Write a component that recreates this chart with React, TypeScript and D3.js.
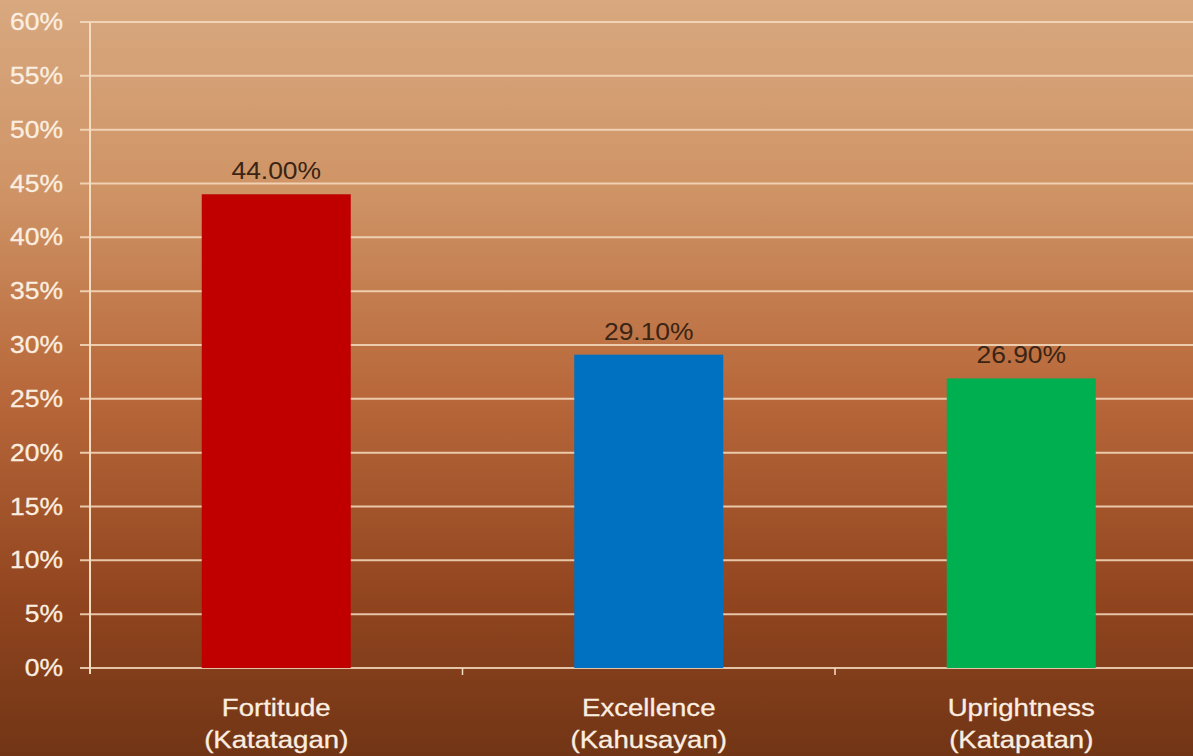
import React from "react";
import * as d3 from "d3";

const categories = ["Fortitude|(Katatagan)", "Excellence|(Kahusayan)", "Uprightness|(Katapatan)"];
const values = [44.0, 29.1, 26.9];
const barColors = ["#c00000", "#0070c0", "#00b050"];
const yTicks = [0, 5, 10, 15, 20, 25, 30, 35, 40, 45, 50, 55, 60];

const W = 1193;
const H = 756;
const FONT = "'Liberation Sans', Arial, sans-serif";

export default function App() {
  const x = d3.scaleBand<string>().domain(categories).range([90, 1207.5]).paddingInner(0).paddingOuter(0);
  const y = d3.scaleLinear().domain([0, 60]).range([668, 22]);
  const bw = x.bandwidth() * 0.4;
  const sx = 1.15;

  return (
    <svg width={W} height={H} style={{ position: "absolute", left: 0, top: 0, display: "block" }}>
      <defs>
        <linearGradient id="bg" x1="0" y1="0" x2="0" y2="1">
          <stop offset="0" stopColor="#d8a87f" />
          <stop offset="0.25" stopColor="#cf9466" />
          <stop offset="0.52" stopColor="#b8683a" />
          <stop offset="0.78" stopColor="#934620" />
          <stop offset="1" stopColor="#713515" />
        </linearGradient>
      </defs>
      <rect x={0} y={0} width={W} height={H} fill="url(#bg)" />
      {yTicks.map((t) => (
        <g key={t}>
          <line x1={80} x2={W} y1={y(t)} y2={y(t)} stroke="#f6dcc0" strokeOpacity={0.85} strokeWidth={2} />
          <text
            x={0}
            y={0}
            transform={`translate(63,${y(t) + 8}) scale(${sx},1)`}
            textAnchor="end"
            fontFamily={FONT}
            fontSize={23}
            fill="#fbeee0"
            stroke="#fbeee0"
            strokeWidth={0.3}
          >
            {t}%
          </text>
        </g>
      ))}
      <line x1={90} x2={90} y1={y(60)} y2={y(0) + 6} stroke="#f6dcc0" strokeWidth={2} />
      {[1, 2, 3].map((i) => {
        const xx = 90 + i * x.step();
        return xx < W ? <line key={i} x1={xx} x2={xx} y1={y(0)} y2={y(0) + 7} stroke="#f6dcc0" strokeWidth={1.5} /> : null;
      })}
      {categories.map((c, i) => {
        const cx = (x(c) as number) + x.bandwidth() / 2;
        const [l1, l2] = c.split("|");
        return (
          <g key={c}>
            <rect x={cx - bw / 2} y={y(values[i])} width={bw} height={y(0) - y(values[i])} fill={barColors[i]} />
            <text
              transform={`translate(${cx},${y(values[i]) - 15}) scale(${sx},1)`}
              textAnchor="middle"
              fontFamily={FONT}
              fontSize={23}
              fill="#3a2414"
            >
              {values[i].toFixed(2)}%
            </text>
            <text
              transform={`translate(${cx},716) scale(${sx},1)`}
              textAnchor="middle"
              fontFamily={FONT}
              fontSize={24}
              fill="#fbeee0"
              stroke="#fbeee0"
              strokeWidth={0.3}
            >
              {l1}
            </text>
            <text
              transform={`translate(${cx},748) scale(${sx},1)`}
              textAnchor="middle"
              fontFamily={FONT}
              fontSize={24}
              fill="#fbeee0"
              stroke="#fbeee0"
              strokeWidth={0.3}
            >
              {l2}
            </text>
          </g>
        );
      })}
    </svg>
  );
}
